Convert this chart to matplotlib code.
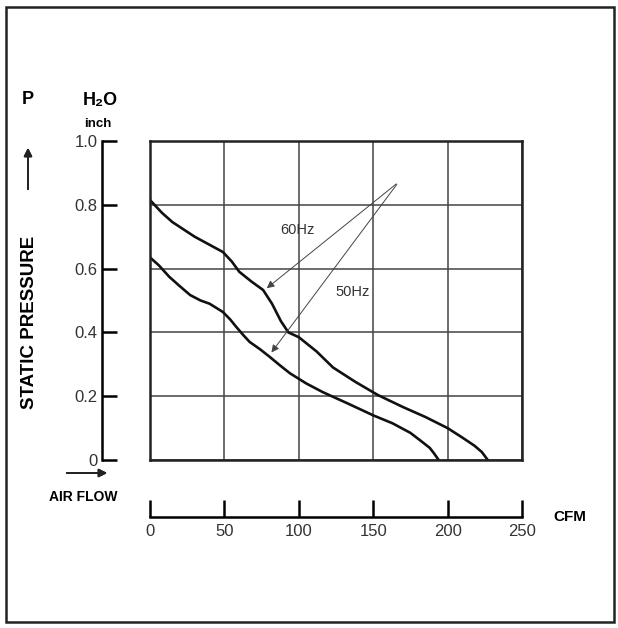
import matplotlib.pyplot as plt
from matplotlib.patches import Rectangle

plt.rcParams['font.family'] = ['Liberation Sans', 'DejaVu Sans']

# Fan curve data (CFM, inch H2O)
flow_60 = [0, 4, 8, 15, 30, 49, 55, 60, 68, 76, 82, 88, 93, 100, 112, 123, 138, 153, 170,
           185, 200, 210, 218, 223, 227]
pres_60 = [0.815, 0.795, 0.775, 0.746, 0.70, 0.652, 0.622, 0.59, 0.56, 0.533, 0.49, 0.435,
           0.40, 0.385, 0.34, 0.29, 0.245, 0.204, 0.166, 0.135, 0.10, 0.07, 0.045, 0.025, 0.0]
flow_50 = [0, 6, 13, 20, 27, 34, 40, 49, 54, 58, 63, 67, 74, 80, 87, 94, 105, 116, 133, 150,
           163, 175, 182, 188, 191, 194]
pres_50 = [0.635, 0.61, 0.574, 0.545, 0.517, 0.50, 0.49, 0.464, 0.44, 0.417, 0.39, 0.37,
           0.347, 0.325, 0.298, 0.272, 0.24, 0.213, 0.177, 0.14, 0.115, 0.085, 0.06, 0.038,
           0.02, 0.0]

x_ticks = [0, 50, 100, 150, 200, 250]
y_ticks = [0, 0.2, 0.4, 0.6, 0.8, 1.0]
y_labels = ['0', '0.2', '0.4', '0.6', '0.8', '1.0']

W, H = 618, 628
fig = plt.figure(figsize=(W / 100, H / 100), dpi=100)


def px(x, y):
    return x / W, 1 - y / H


def box(x0, y0, x1, y1):
    return [x0 / W, 1 - y1 / H, (x1 - x0) / W, (y1 - y0) / H]


# outer frame
fig.patches.append(Rectangle(px(6, 622), 608 / W, 615 / H, transform=fig.transFigure,
                             fill=False, lw=1.8, ec='#222222', zorder=5))

# main grid box
ax = fig.add_axes(box(150, 141, 522, 460))
ax.set_facecolor('none')
ax.plot(flow_60, pres_60, color='#111111', lw=1.9)
ax.plot(flow_50, pres_50, color='#111111', lw=1.9)
ax.set_xlim(0, 250)
ax.set_ylim(0, 1.0)
ax.set_xticks(x_ticks)
ax.set_yticks(y_ticks)
ax.grid(True, color='#444444', lw=1.1)
ax.tick_params(length=0, labelbottom=False, labelleft=False)
for s in ax.spines.values():
    s.set_linewidth(1.8)
    s.set_color('#222222')

arrow = dict(arrowstyle='-|>', color='#444444', lw=0.7, mutation_scale=11)
ax.annotate('', xy=(77, 0.533), xytext=(167, 0.871), arrowprops=arrow)
ax.annotate('', xy=(80.5, 0.33), xytext=(167, 0.871), arrowprops=arrow)
ax.text(99, 0.72, '60Hz', fontsize=10.5, color='#333333', ha='center', va='center')
ax.text(136, 0.527, '50Hz', fontsize=10.5, color='#333333', ha='center', va='center')

# separate y scale on the left
ay = fig.add_axes(box(102, 141, 104, 460))
ay.set_facecolor('none')
ay.set_ylim(0, 1.0)
ay.set_yticks(y_ticks)
ay.set_yticklabels(y_labels)
ay.set_xticks([])
for k in ['top', 'right', 'bottom']:
    ay.spines[k].set_visible(False)
ay.spines['left'].set_linewidth(1.8)
ay.tick_params(axis='y', direction='in', length=11, width=1.8, pad=3,
               labelsize=12, labelcolor='#333333')

# separate x scale below
axx = fig.add_axes(box(150, 505, 522, 517))
axx.set_facecolor('none')
axx.set_xlim(0, 250)
axx.set_xticks(x_ticks)
axx.set_yticks([])
for k in ['top', 'right', 'left']:
    axx.spines[k].set_visible(False)
axx.spines['bottom'].set_linewidth(1.8)
axx.tick_params(axis='x', direction='in', length=12, width=1.8, pad=5,
                labelsize=12, labelcolor='#333333')

# axis titles and arrows
fig.text(*px(28, 100), 'P', fontsize=13, weight='bold', ha='center', va='center')
fig.text(*px(100, 100), 'H₂O', fontsize=13, weight='bold', ha='center', va='center')
fig.text(*px(98, 124), 'inch', fontsize=9.5, weight='bold', ha='center', va='center')
fig.text(*px(30, 322), 'STATIC PRESSURE', fontsize=13.5, weight='bold', rotation=90,
         ha='center', va='center')
fig.text(*px(83, 497), 'AIR FLOW', fontsize=10, weight='bold', ha='center', va='center')
fig.text(*px(570, 517), 'CFM', fontsize=11, weight='bold', ha='center', va='center')

head = dict(arrowstyle='-|>', color='#222222', lw=1.3, mutation_scale=12)
fig.add_artist(plt.annotate('', xy=px(28, 145), xytext=px(28, 192), xycoords='figure fraction',
                            arrowprops=head))
fig.add_artist(plt.annotate('', xy=px(110, 473), xytext=px(64, 473), xycoords='figure fraction',
                            arrowprops=head))

fig.savefig('out.png', dpi=100)
